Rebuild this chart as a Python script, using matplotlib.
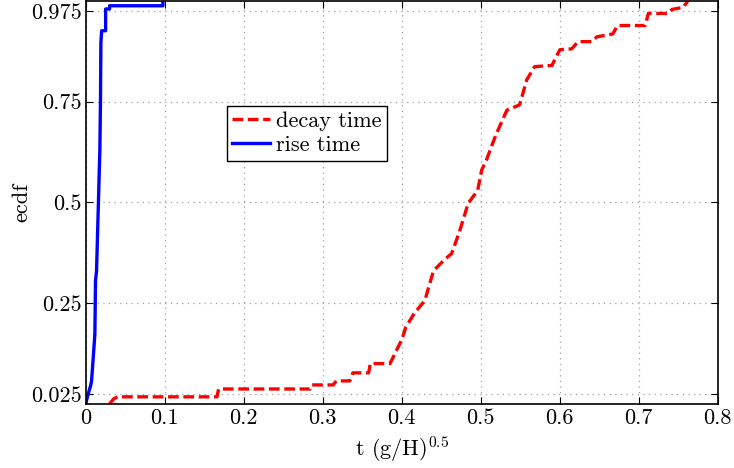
import matplotlib
matplotlib.use('Agg')
import matplotlib.pyplot as plt
import numpy as np

plt.rcParams['font.family'] = 'serif'
plt.rcParams['font.serif'] = ['cmr10', 'DejaVu Serif']
plt.rcParams['mathtext.fontset'] = 'cm'
plt.rcParams['axes.formatter.use_mathtext'] = True

# rise time ecdf
rise_t = [0.0, 0.001, 0.004, 0.006, 0.0072, 0.0095, 0.0114, 0.0122, 0.0135, 0.0177,
          0.0185, 0.019, 0.020, 0.025, 0.025, 0.030, 0.030, 0.0975, 0.0975]
rise_f = [0.0, 0.01, 0.032, 0.045, 0.057, 0.12, 0.174, 0.306, 0.33, 0.63,
          0.754, 0.897, 0.926, 0.926, 0.98, 0.98, 0.988, 0.988, 1.0]

# decay time ecdf
decay_t = [0.030, 0.035, 0.040, 0.166, 0.168, 0.284, 0.286, 0.313, 0.317, 0.334,
           0.338, 0.358, 0.360, 0.385, 0.390, 0.400, 0.405, 0.416, 0.420, 0.429,
           0.440, 0.454, 0.463, 0.473, 0.484, 0.496, 0.501, 0.507, 0.515, 0.520,
           0.533, 0.549, 0.552, 0.558, 0.568, 0.590, 0.600, 0.615, 0.623, 0.640,
           0.647, 0.667, 0.673, 0.708, 0.712, 0.737, 0.742, 0.756, 0.762]
decay_f = [0.0, 0.012, 0.0175, 0.0175, 0.037, 0.037, 0.047, 0.047, 0.057, 0.057,
           0.077, 0.077, 0.100, 0.100, 0.120, 0.160, 0.190, 0.226, 0.235, 0.256,
           0.330, 0.358, 0.373, 0.428, 0.498, 0.530, 0.580, 0.605, 0.647, 0.672,
           0.729, 0.742, 0.762, 0.804, 0.837, 0.840, 0.879, 0.881, 0.899, 0.899,
           0.911, 0.918, 0.939, 0.939, 0.969, 0.969, 0.979, 0.984, 1.0]

xticks = [0, 0.1, 0.2, 0.3, 0.4, 0.5, 0.6, 0.7, 0.8]
xtick_labels = ['0', '0.1', '0.2', '0.3', '0.4', '0.5', '0.6', '0.7', '0.8']
yticks = [0.025, 0.25, 0.5, 0.75, 0.975]
ytick_labels = ['0.025', '0.25', '0.5', '0.75', '0.975']

fig = plt.figure(figsize=(7.34, 4.68), dpi=100)
ax = fig.add_axes([0.117, 0.137, 0.861, 0.861])

ax.plot(decay_t, decay_f, color='red', lw=2.4, ls=(0, (3.2, 1.4)), label='decay time')
ax.plot(rise_t, rise_f, color='blue', lw=2.4, label='rise time')

ax.set_xlim(0, 0.8)
ax.set_ylim(0, 1.0)
ax.set_xticks(xticks)
ax.set_xticklabels(xtick_labels)
ax.set_yticks(yticks)
ax.set_yticklabels(ytick_labels)
ax.tick_params(direction='in', top=True, right=True, labelsize=16, length=5, pad=3)
ax.grid(True, ls=(0, (1, 3.5)), color='#a0a0a0', lw=0.9)
for s in ax.spines.values():
    s.set_linewidth(1.2)

ax.set_xlabel('t (g/H)$^{0.5}$', fontsize=16, labelpad=5)
ax.set_ylabel('ecdf', fontsize=16, labelpad=0)

leg = ax.legend(loc='upper left', bbox_to_anchor=(0.223, 0.739), fontsize=16,
                fancybox=False, framealpha=1, edgecolor='black', handlelength=1.7,
                handletextpad=0.25, borderpad=0.25, labelspacing=0.2, borderaxespad=0)
leg.get_frame().set_linewidth(1.0)

fig.savefig('out.png', dpi=100)
